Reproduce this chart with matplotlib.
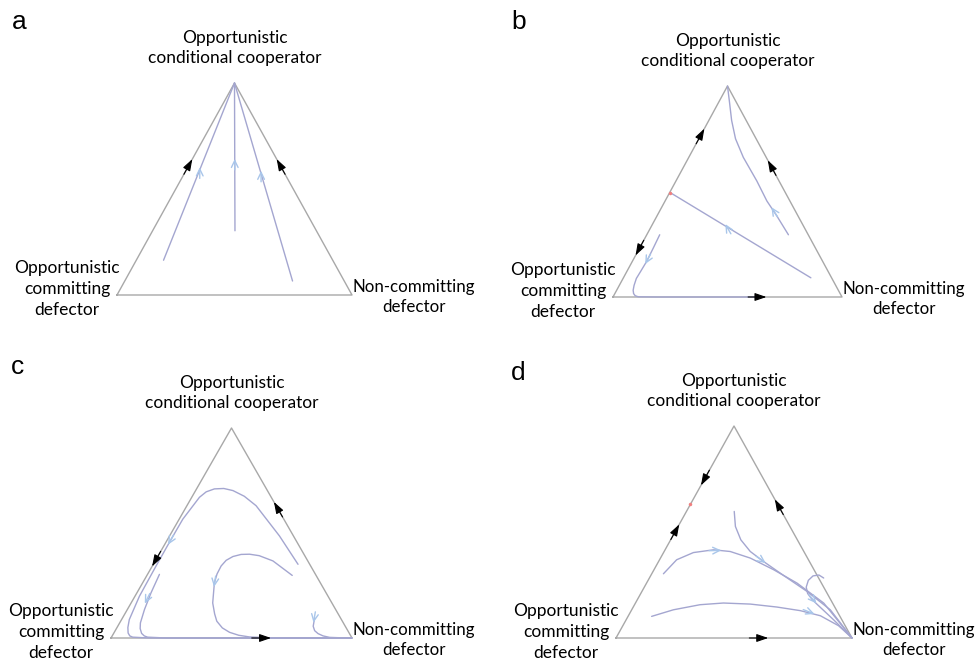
import matplotlib
matplotlib.use("Agg")
import matplotlib.pyplot as plt
import numpy as np

FIG_W, FIG_H = 975, 665

# triangle corners in pixels: left x, right x, base y, top y (apex sits at the centre)
corners = {
    "a": (117, 352, 295, 83),
    "b": (613, 842, 297, 86),
    "c": (111, 352, 638, 428),
    "d": (616, 852, 638, 426),
}

# trajectories in triangle coords: x 0..1 along the base, y 0..1 from base to apex
traj_a = [
    [(0.198, 0.164), (0.5, 1.0)],
    [(0.502, 0.303), (0.5, 1.0)],
    [(0.747, 0.066), (0.5, 1.0)],
]
arrows_a = [(0.352, 0.59, 1), (0.501, 0.63, 1), (0.613, 0.574, 1)]

traj_b = [
    [(0.864, 0.091), (0.251, 0.494)],
    [(0.766, 0.295), (0.715, 0.385), (0.672, 0.455), (0.628, 0.55), (0.569, 0.662),
     (0.535, 0.75), (0.518, 0.837), (0.508, 0.93), (0.5, 1.0)],
    [(0.204, 0.295), (0.175, 0.23), (0.146, 0.167), (0.120, 0.12), (0.102, 0.088),
     (0.092, 0.055), (0.088, 0.032), (0.090, 0.016), (0.097, 0.006), (0.11, 0.001),
     (0.19, 0.0), (0.65, 0.0)],
]
arrows_b = [(0.496, 0.335, 1), (0.698, 0.415, 1), (0.146, 0.167, 1)]

traj_c = [
    [(0.776, 0.351), (0.699, 0.486), (0.602, 0.63), (0.553, 0.675), (0.506, 0.702),
     (0.468, 0.712), (0.429, 0.71), (0.395, 0.696), (0.367, 0.67), (0.298, 0.566),
     (0.242, 0.455), (0.187, 0.343), (0.118, 0.199), (0.076, 0.088), (0.07, 0.05),
     (0.071, 0.024), (0.078, 0.01), (0.09, 0.004), (0.159, 0.0), (1.0, 0.0)],
    [(0.201, 0.303), (0.166, 0.215), (0.139, 0.136), (0.122, 0.072), (0.121, 0.045),
     (0.127, 0.022), (0.138, 0.01), (0.152, 0.004), (0.229, 0.0), (1.0, 0.0)],
    [(0.752, 0.298), (0.672, 0.367), (0.615, 0.392), (0.575, 0.399), (0.54, 0.398),
     (0.506, 0.388), (0.478, 0.37), (0.457, 0.343), (0.44, 0.305), (0.429, 0.263),
     (0.422, 0.167), (0.43, 0.115), (0.439, 0.08), (0.462, 0.048), (0.492, 0.027),
     (0.53, 0.013), (0.575, 0.005), (0.686, 0.0), (1.0, 0.0)],
    [(0.845, 0.096), (0.839, 0.056), (0.845, 0.035), (0.859, 0.021), (0.88, 0.01),
     (0.907, 0.003), (0.976, 0.0)],
]
arrows_c = [(0.242, 0.455, 1), (0.145, 0.175, 1), (0.429, 0.255, 1), (0.842, 0.085, 1)]

traj_d = [
    [(0.201, 0.303), (0.257, 0.369), (0.328, 0.403), (0.413, 0.416), (0.484, 0.408),
     (0.569, 0.377), (0.668, 0.322), (0.767, 0.259), (0.88, 0.165), (1.0, 0.0)],
    [(0.501, 0.597), (0.506, 0.526), (0.529, 0.463), (0.569, 0.408), (0.625, 0.361),
     (0.71, 0.295), (0.809, 0.22), (0.908, 0.133), (1.0, 0.0)],
    [(0.88, 0.283), (0.86, 0.297), (0.835, 0.293), (0.815, 0.272), (0.806, 0.24),
     (0.812, 0.21), (0.83, 0.183), (0.851, 0.16), (0.922, 0.086), (1.0, 0.0)],
    [(0.151, 0.102), (0.243, 0.133), (0.356, 0.157), (0.455, 0.165), (0.569, 0.16),
     (0.682, 0.146), (0.781, 0.129), (0.866, 0.105), (0.943, 0.058), (1.0, 0.0)],
]
arrows_d = [(0.434, 0.413, 1), (0.625, 0.361, 1), (0.842, 0.173, 1), (0.83, 0.118, 1)]

# flow direction on the edges: (edge, fraction from the base vertex, +1 toward apex/right)
edge_flow = {
    "a": [("L", 0.623, 1), ("R", 0.623, 1)],
    "b": [("L", 0.78, 1), ("L", 0.215, -1), ("R", 0.63, 1), ("B", 0.65, 1)],
    "c": [("R", 0.63, 1), ("L", 0.359, -1), ("B", 0.644, 1)],
    "d": [("L", 0.738, -1), ("L", 0.518, 1), ("R", 0.636, 1), ("B", 0.625, 1)],
}
# interior rest points on the left edge
rest_points = {"b": [0.494], "d": [0.631]}

trajectories = {"a": traj_a, "b": traj_b, "c": traj_c, "d": traj_d}
traj_arrows = {"a": arrows_a, "b": arrows_b, "c": arrows_c, "d": arrows_d}

top_label = "Opportunistic\nconditional cooperator"
left_label = "Opportunistic\ncommitting\ndefector"
right_label = "Non-committing\ndefector"

EDGE = "#a8a8a8"
LINE = "#a4a6d0"
CHEV = "#a9c6ea"
LABEL_FONT = ["Lato", "DejaVu Sans"]


def edge_point(edge, t):
    if edge == "L":
        return np.array([0.5 * t, t]), np.array([0.5, 1.0])
    if edge == "R":
        return np.array([1 - 0.5 * t, t]), np.array([-0.5, 1.0])
    return np.array([t, 0.0]), np.array([1.0, 0.0])


def direction_at(pts, x, y):
    pts = np.asarray(pts)
    i = int(np.argmin(np.hypot(pts[:, 0] - x, pts[:, 1] - y)))
    a = pts[max(i - 1, 0)]
    b = pts[min(i + 1, len(pts) - 1)]
    d = b - a
    return d / np.hypot(*d)


fig = plt.figure(figsize=(FIG_W / 100, FIG_H / 100), dpi=100)
fig.patch.set_facecolor("white")

for key, (xl, xr, yb, yt) in corners.items():
    ax = fig.add_axes([xl / FIG_W, 1 - yb / FIG_H, (xr - xl) / FIG_W, (yb - yt) / FIG_H])
    ax.set_xlim(0, 1)
    ax.set_ylim(0, 1)
    ax.axis("off")

    ax.plot([0, 1, 0.5, 0], [0, 0, 1, 0], color=EDGE, lw=1.0, clip_on=False)

    for pts in trajectories[key]:
        pts = np.asarray(pts)
        ax.plot(pts[:, 0], pts[:, 1], color=LINE, lw=1.0, clip_on=False,
                solid_capstyle="round", solid_joinstyle="round")

    for x, y, s in traj_arrows[key]:
        # pick the trajectory that passes closest to the arrow
        best = min(trajectories[key],
                   key=lambda p: np.min(np.hypot(np.asarray(p)[:, 0] - x,
                                                 np.asarray(p)[:, 1] - y)))
        if len(best) == 2:
            d = np.asarray(best[1]) - np.asarray(best[0])
            d = d / np.hypot(*d)
        else:
            d = direction_at(best, x, y)
        d = d * s
        ax.annotate("", xy=(x + 0.012 * d[0], y + 0.012 * d[1]),
                    xytext=(x - 0.04 * d[0], y - 0.04 * d[1]),
                    arrowprops=dict(arrowstyle="->,head_length=0.5,head_width=0.24",
                                    color=CHEV, lw=1.0, shrinkA=0, shrinkB=0),
                    annotation_clip=False)

    for edge, t, s in edge_flow[key]:
        p, d = edge_point(edge, t)
        d = d / np.hypot(*d) * s
        ax.annotate("", xy=p + 0.02 * d, xytext=p - 0.06 * d,
                    arrowprops=dict(arrowstyle="-|>,head_length=0.7,head_width=0.24",
                                    color="black", lw=0.8, shrinkA=0, shrinkB=0),
                    annotation_clip=False)

    for t in rest_points.get(key, []):
        p, _ = edge_point("L", t)
        ax.plot(p[0], p[1], "o", ms=2.5, color="#f08080", mec="none", clip_on=False)

    xc = (xl + xr) / 2
    fig.text(xc / FIG_W, 1 - (yt - 35) / FIG_H, top_label, ha="center", va="center",
             fontsize=12.5, family=LABEL_FONT, linespacing=1.3)
    fig.text((xl + 3) / FIG_W, 1 - (yb - 6) / FIG_H, left_label, ha="right", va="center",
             multialignment="center", fontsize=12.5, family=LABEL_FONT, linespacing=1.35)
    fig.text((xr + 1) / FIG_W, 1 - (yb + 2) / FIG_H, right_label, ha="left", va="center",
             multialignment="center", fontsize=12.2, family=LABEL_FONT, linespacing=1.35)

letter_pos = {"a": (12, 22), "b": (511, 22), "c": (11, 367), "d": (511, 373)}
for key, (x, y) in letter_pos.items():
    fig.text(x / FIG_W, 1 - y / FIG_H, key, ha="left", va="center", fontsize=19,
             family="Liberation Sans")

fig.savefig("out.png", dpi=100, facecolor="white")
